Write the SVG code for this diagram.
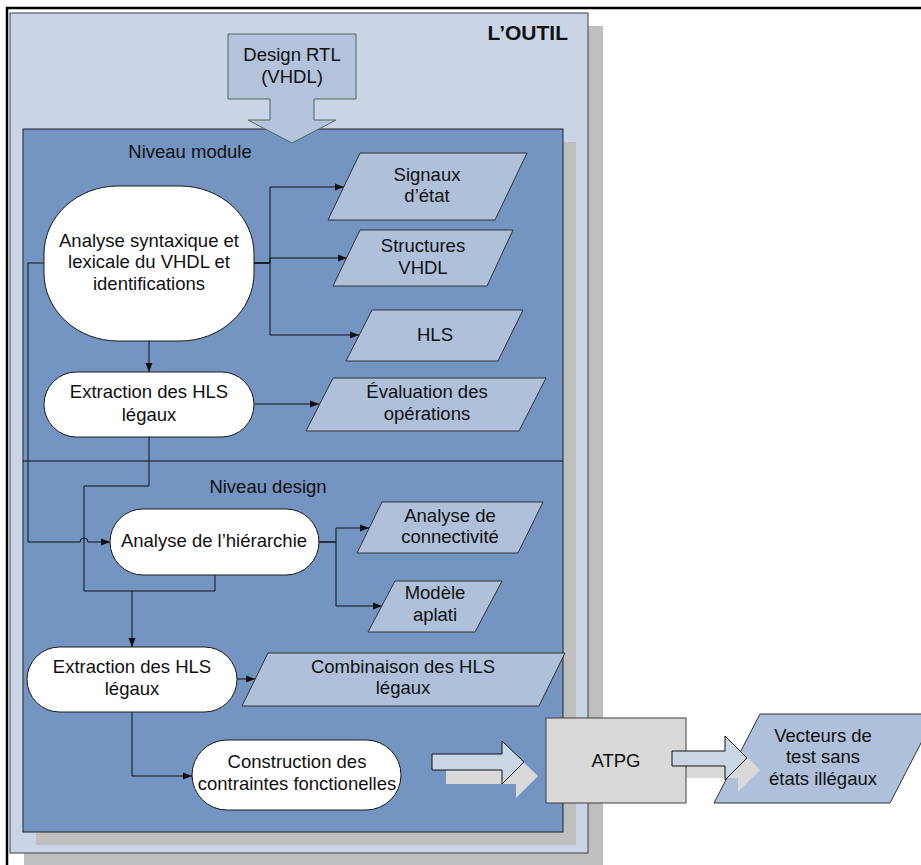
<svg xmlns="http://www.w3.org/2000/svg" width="921" height="865" viewBox="0 0 921 865">
<defs>
<style>
text{font-family:"Liberation Sans",Arial,sans-serif;font-size:18.5px;fill:#111;text-anchor:middle}
.node{fill:#fff;stroke:#1a1a1a;stroke-width:1}
.para{fill:#AFC1DA;stroke:#333;stroke-width:1}
.conn{fill:none;stroke:#111;stroke-width:1}
.arr{marker-end:url(#ah)}
.shadow{fill:#BFBFBF}
.bshadow{fill:#D9D9D9}
.barrow{fill:#C9D6E6;stroke:#111;stroke-width:1}
</style>
<marker id="ah" markerUnits="userSpaceOnUse" markerWidth="10" markerHeight="8" refX="9" refY="4" orient="auto">
<path d="M0,0.5 L9,4 L0,7.5 z" fill="#111"/>
</marker>
</defs>
<rect width="921" height="865" fill="#fff"/>
<g id="frame">
<path d="M7,865 V8 H921" fill="none" stroke="#000" stroke-width="2.5"/>
</g>
<g id="outil">
<rect class="shadow" x="24" y="26" width="579" height="839"/>
<rect x="10" y="13" width="578" height="840" fill="#C9D5E6" stroke="#404040" stroke-width="1"/>
<text x="568" y="40" style="font-weight:bold;text-anchor:end;font-size:21px">L’OUTIL</text>
</g>
<g id="niveaux">
<rect class="shadow" x="36" y="142" width="540" height="703"/>
<rect x="23" y="129" width="540" height="703" fill="#7494C1" stroke="#222" stroke-width="1"/>
<line x1="23" y1="461" x2="563" y2="461" stroke="#111" stroke-width="1"/>
<text x="190" y="158">Niveau module</text>
<text x="268" y="493">Niveau design</text>
</g>
<g id="design-rtl">
<polygon points="228,34 356,34 356,99 314,99 314,120 336,120 292,143 248,120 270,120 270,99 228,99" fill="#B2C3DB" stroke="#4A6B5B" stroke-width="1"/>
<text x="292" y="61">Design RTL</text>
<text x="292" y="83">(VHDL)</text>
</g>
<g id="connectors">
<path class="conn arr" d="M254,263 H270 V187 H344"/>
<path class="conn arr" d="M254,263 H270 V258 H347"/>
<path class="conn arr" d="M254,263 H270 V335 H359"/>
<path class="conn arr" d="M149,341 V372"/>
<path class="conn arr" d="M254,404 H319"/>
<path class="conn arr" d="M149,437 V486 H84 V591 H132 V647"/>
<path class="conn" d="M215,575 V591 H132"/>
<path class="conn arr" d="M44,263 H28 V542 H80 A4,4 0 0 1 88,542 H110"/>
<path class="conn arr" d="M319,542 H336 V528 H369"/>
<path class="conn arr" d="M319,542 H336 V606 H382"/>
<path class="conn arr" d="M237,679 H255"/>
<path class="conn arr" d="M132,712 V776 H192"/>
</g>
<g id="analyse-syntaxique">
<rect class="node" x="44" y="186" width="210" height="155" rx="74" ry="68"/>
<text x="149" y="247">Analyse syntaxique et</text>
<text x="149" y="268">lexicale du VHDL et</text>
<text x="149" y="290">identifications</text>
</g>
<g id="extraction-module">
<rect class="node" x="44" y="372" width="210" height="65" rx="32.5"/>
<text x="149" y="398">Extraction des HLS</text>
<text x="149" y="421">légaux</text>
</g>
<g id="signaux">
<polygon class="para" points="360,153 527,153 495,220 328,220"/>
<text x="427" y="181">Signaux</text>
<text x="427" y="202">d’état</text>
</g>
<g id="structures">
<polygon class="para" points="360,230 513,230 487,286 333,286"/>
<text x="423" y="252">Structures</text>
<text x="423" y="274">VHDL</text>
</g>
<g id="hls">
<polygon class="para" points="372,310 523,310 498,361 346,361"/>
<text x="435" y="341">HLS</text>
</g>
<g id="evaluation">
<polygon class="para" points="333,378 546,378 519,431 306,431"/>
<text x="427" y="398">Évaluation des</text>
<text x="427" y="420">opérations</text>
</g>
<g id="analyse-hierarchie">
<rect class="node" x="110" y="509" width="209" height="66" rx="33"/>
<text x="214" y="547">Analyse de l’hiérarchie</text>
</g>
<g id="connectivite">
<polygon class="para" points="382,502 543,502 518,553 357,553"/>
<text x="450" y="522">Analyse de</text>
<text x="450" y="543">connectivité</text>
</g>
<g id="modele">
<polygon class="para" points="395,581 502,581 475,632 368,632"/>
<text x="435" y="599">Modèle</text>
<text x="435" y="621">aplati</text>
</g>
<g id="extraction-design">
<rect class="node" x="27" y="647" width="210" height="65" rx="32.5"/>
<text x="132" y="673">Extraction des HLS</text>
<text x="132" y="695">légaux</text>
</g>
<g id="combinaison">
<polygon class="para" points="268,653 565,653 539,706 242,706"/>
<text x="403" y="673">Combinaison des HLS</text>
<text x="403" y="694">légaux</text>
</g>
<g id="construction">
<rect class="node" x="192" y="740" width="209" height="70" rx="35"/>
<text x="297" y="768">Construction des</text>
<text x="297" y="790">contraintes fonctionelles</text>
</g>
<g id="arrow-to-atpg">
<polygon class="bshadow" points="446,768 516,768 516,755 538,776 516,798 516,784 446,784"/>
<polygon class="barrow" points="432,754 502,754 502,741 524,762 502,784 502,770 432,770"/>
</g>
<g id="vecteurs">
<polygon class="para" points="760,714 936,714 890,803 714,803"/>
<text x="823" y="742">Vecteurs de</text>
<text x="823" y="763">test sans</text>
<text x="823" y="785">états illégaux</text>
</g>
<g id="atpg">
<polygon class="bshadow" points="685,763 738,763 738,748 760,770 738,792 738,778 685,778"/>
<rect x="546" y="718" width="140" height="85" fill="#D9D9D9" stroke="#404040" stroke-width="1"/>
<text x="616" y="767">ATPG</text>
<polygon class="barrow" points="672,751 725,751 725,736 747,758 725,780 725,766 672,766"/>
</g>
</svg>
